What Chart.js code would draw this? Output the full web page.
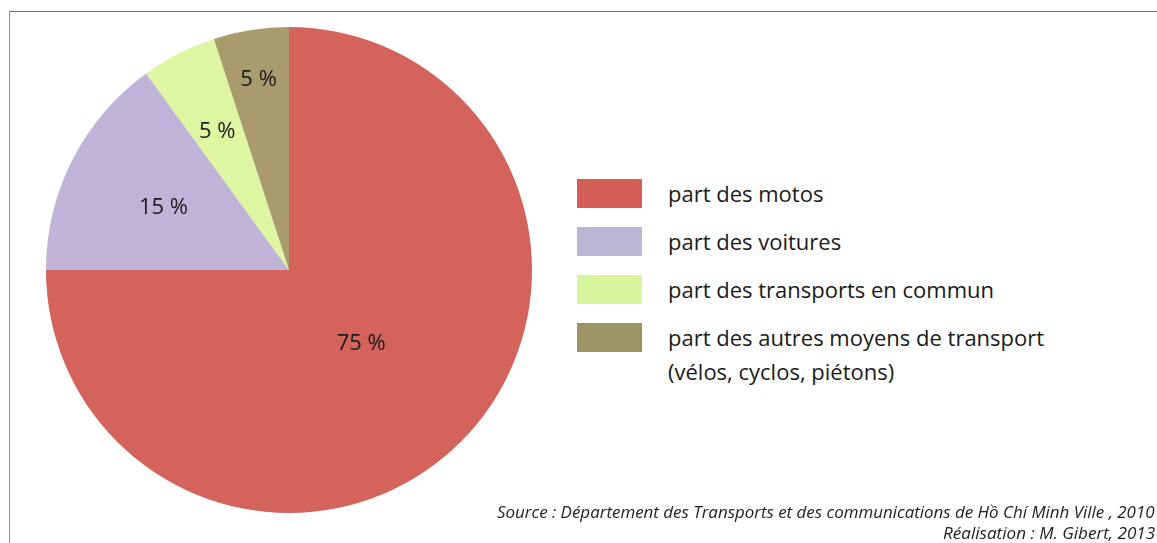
<!DOCTYPE html>
<html lang="fr">

<head>
    <meta charset="UTF-8">
    <title>Répartition modale</title>
    <script src="https://cdn.jsdelivr.net/npm/chart.js"></script>
    <style>
        body {
            margin: 0;
            width: 1157px;
            height: 543px;
            background: #fff;
            overflow: hidden;
            position: relative;
            font-family: 'Open Sans', sans-serif;
        }

        .frame {
            position: absolute;
            left: 9px;
            top: 11px;
            width: 1200px;
            height: 600px;
            border-top: 1px solid #6f6f6f;
            border-left: 1px solid #8a8a8a;
        }

        .pie-box {
            position: absolute;
            left: 46px;
            top: 27px;
            width: 486px;
            height: 486px;
        }

        #legend {
            position: absolute;
            left: 577px;
            top: 179px;
        }

        .item {
            position: relative;
            height: 48px;
        }

        .box {
            position: absolute;
            left: 0;
            top: 0;
            width: 65px;
            height: 29px;
        }

        .txt {
            position: absolute;
            left: 91px;
            top: -3px;
            white-space: nowrap;
            font-size: 22px;
            line-height: 34px;
            color: #1a1a1a;
        }

        .source {
            position: absolute;
            right: 2px;
            top: 501px;
            text-align: right;
        }

        .source p {
            margin: 0;
            font-style: italic;
            font-size: 17px;
            line-height: 21px;
            color: #222;
            white-space: nowrap;
        }

        .source span {
            display: inline-block;
            transform-origin: right center;
        }
    </style>
</head>

<body>
    <div class="frame"></div>
    <div class="pie-box"><canvas id="pieChart"></canvas></div>
    <div id="legend"></div>
    <div class="source">
        <p><span id="src1">Source : Département des Transports et des communications de Hồ Chí Minh Ville , 2010</span></p>
        <p><span id="src2">Réalisation : M. Gibert, 2013</span></p>
    </div>

    <script>
        // modal share, in percent
        const categories = [
            "part des motos",
            "part des voitures",
            "part des transports en commun",
            "part des autres moyens de transport"
        ];
        const shares = [75, 15, 5, 5];
        const sliceColors = ["#d4635b", "#bfb3d8", "#def6a2", "#aa9b6c"];
        const legendColors = ["#d45f57", "#bcb5d3", "#d7f59c", "#9c9462"];
        const legendExtra = ["", "", "", "(vélos, cyclos, piétons)"];

        // where each % label sits, as a fraction of the radius
        const labelRadius = [0.42, 0.58, 0.65, 0.8];

        const sliceLabels = {
            id: "sliceLabels",
            afterDatasetsDraw(chart) {
                const ctx = chart.ctx;
                const meta = chart.getDatasetMeta(0);
                ctx.save();
                ctx.font = "22px 'Open Sans'";
                ctx.fillStyle = "#1a1a1a";
                ctx.textAlign = "center";
                ctx.textBaseline = "middle";
                meta.data.forEach((arc, i) => {
                    const mid = (arc.startAngle + arc.endAngle) / 2;
                    const r = arc.outerRadius * labelRadius[i];
                    const x = arc.x + Math.cos(mid) * r;
                    const y = arc.y + Math.sin(mid) * r + 2;
                    ctx.fillText(shares[i] + " %", x, y);
                });
                ctx.restore();
            }
        };

        new Chart(document.getElementById("pieChart"), {
            type: "pie",
            data: {
                labels: categories,
                datasets: [{
                    data: shares,
                    backgroundColor: sliceColors,
                    borderWidth: 0
                }]
            },
            options: {
                responsive: true,
                maintainAspectRatio: false,
                animation: false,
                layout: { padding: 0 },
                plugins: {
                    legend: { display: false },
                    tooltip: { enabled: false }
                }
            },
            plugins: [sliceLabels]
        });

        // legend on the right
        let html = "";
        categories.forEach((cat, i) => {
            html += '<div class="item"><span class="box" style="background:' + legendColors[i] + '"></span>';
            html += '<span class="txt">' + cat + (legendExtra[i] ? '<br>' + legendExtra[i] : '') + '</span></div>';
        });
        document.getElementById("legend").innerHTML = html;

        // squeeze the source lines so they look like a condensed italic
        function fitSource() {
            [["src1", 658], ["src2", 212]].forEach(([id, target]) => {
                const el = document.getElementById(id);
                el.style.transform = "none";
                const w = el.offsetWidth;
                el.style.transform = "scaleX(" + (target / w) + ")";
            });
        }
        fitSource();
        document.fonts.ready.then(fitSource);
    </script>
</body>

</html>
